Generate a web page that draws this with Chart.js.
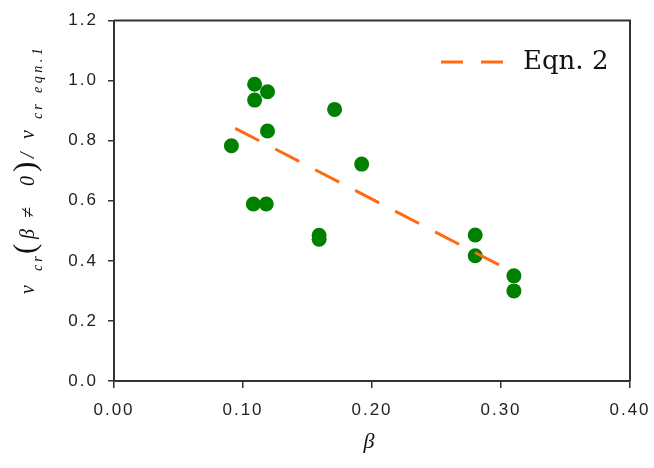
<!DOCTYPE html>
<html>
<head>
<meta charset="utf-8">
<script src="https://cdn.jsdelivr.net/npm/chart.js@4.4.1/dist/chart.umd.min.js"></script>
<style>
  body { margin: 0; background: #fff; }
  canvas { display: block; }
</style>
</head>
<body>
<canvas id="myChart" width="654" height="468"></canvas>
<script>
// dane
const betaValues  = [0.091, 0.109, 0.109, 0.119, 0.119, 0.108, 0.118, 0.159, 0.159, 0.171, 0.192, 0.280, 0.280, 0.310, 0.310];
const ratioValues = [0.783, 0.988, 0.935, 0.963, 0.832, 0.589, 0.589, 0.485, 0.472, 0.904, 0.722, 0.486, 0.417, 0.350, 0.300];
const eqnBeta  = [0.094, 0.309];
const eqnRatio = [0.841, 0.363];
const eqnLabel = 'Eqn. 2';
const xTitle = 'β';

const axisColor = '#333';
const pointColor = '#008000';
const eqnColor = '#ff6a13';

// tytul osi Y z indeksami dolnymi (bottom = dolna krawedz kawalka na ekranie)
const yTitleRuns = [
    { t: 'v', size: 20, dy: 0, bottom: 294 },
    { t: 'cr', size: 14, dy: 8, bottom: 271, ls: 3 },
    { t: '(', size: 31, dy: 1, bottom: 254, upright: true },
    { t: 'β', size: 20, dy: 0, bottom: 239 },
    { t: '≠', size: 20, dy: 0, bottom: 218 },
    { t: '0', size: 20, dy: 0, bottom: 186 },
    { t: ')', size: 31, dy: 1, bottom: 172, upright: true },
    { t: '/', size: 20, dy: 0, bottom: 158 },
    { t: 'v', size: 20, dy: 0, bottom: 139 },
    { t: 'cr', size: 14, dy: 8, bottom: 119, ls: 3 },
    { t: 'eqn.1', size: 14, dy: 8, bottom: 93, ls: 3.5 }
];

const extrasPlugin = {
    id: 'extras',
    beforeDraw(chart) {
        chart.ctx.letterSpacing = '2px';
    },
    afterDraw(chart) {
        const ctx = chart.ctx;
        const a = chart.chartArea;
        ctx.save();
        ctx.letterSpacing = '0px';
        // ramka
        ctx.strokeStyle = axisColor;
        ctx.lineWidth = 2;
        ctx.beginPath();
        ctx.moveTo(a.left, a.top);
        ctx.lineTo(a.right, a.top);
        ctx.lineTo(a.right, a.bottom);
        ctx.stroke();

        // legenda
        ctx.strokeStyle = eqnColor;
        ctx.lineWidth = 3;
        ctx.setLineDash([22, 18]);
        ctx.beginPath();
        ctx.moveTo(441, 62);
        ctx.lineTo(508, 62);
        ctx.stroke();
        ctx.setLineDash([]);
        ctx.fillStyle = '#111';
        ctx.font = '26px "DejaVu Serif"';
        ctx.textBaseline = 'middle';
        ctx.textAlign = 'left';
        ctx.fillText(eqnLabel, 523, 62);

        // tytul osi X
        ctx.font = 'italic 22px "Liberation Serif"';
        ctx.textAlign = 'center';
        ctx.fillText(xTitle, 369, 442);

        // tytul osi Y
        ctx.textAlign = 'left';
        ctx.textBaseline = 'alphabetic';
        ctx.translate(34, 0);
        ctx.rotate(-Math.PI / 2);
        yTitleRuns.forEach(r => {
            ctx.font = (r.upright ? '' : 'italic ') + r.size + 'px "Liberation Serif"';
            ctx.letterSpacing = (r.ls || 0) + 'px';
            ctx.fillText(r.t, -r.bottom, r.dy);
        });
        ctx.restore();
    }
};

const ctx = document.getElementById('myChart').getContext('2d');
const myChart = new Chart(ctx, {
    type: 'scatter',
    data: {
        datasets: [
            {
                type: 'line',
                label: eqnLabel,
                data: eqnBeta.map((b, i) => ({ x: b, y: eqnRatio[i] })),
                borderColor: eqnColor,
                borderWidth: 3,
                borderDash: [27, 18],
                pointRadius: 0,
                fill: false,
                order: 0
            },
            {
                label: 'dane',
                data: betaValues.map((b, i) => ({ x: b, y: ratioValues[i] })),
                backgroundColor: pointColor,
                borderWidth: 0,
                pointRadius: 7.5,
                order: 1
            }
        ]
    },
    options: {
        responsive: false,
        animation: false,
        layout: { padding: { top: 20.5, right: 24, left: 0, bottom: 0 } },
        plugins: {
            legend: { display: false },
            tooltip: { enabled: false }
        },
        scales: {
            x: {
                type: 'linear',
                min: 0,
                max: 0.4,
                afterFit: s => {
                    s.height = 87;
                    s.paddingLeft = 0;
                    s.paddingRight = 0;
                },
                ticks: {
                    stepSize: 0.1,
                    padding: 12,
                    color: '#222',
                    font: { family: '"Liberation Sans"', size: 17 },
                    callback: v => v.toFixed(2)
                },
                grid: { drawOnChartArea: false, tickLength: 7, color: axisColor, lineWidth: 1.5 },
                border: { color: axisColor, width: 2 }
            },
            y: {
                min: 0,
                max: 1.2,
                afterFit: s => {
                    s.width = 114;
                    s.paddingTop = 0;
                    s.paddingBottom = 0;
                },
                ticks: {
                    stepSize: 0.2,
                    padding: 10,
                    color: '#222',
                    font: { family: '"Liberation Sans"', size: 17 },
                    callback: v => v.toFixed(1)
                },
                grid: { drawOnChartArea: false, tickLength: 6, color: axisColor, lineWidth: 1.5 },
                border: { color: axisColor, width: 2 }
            }
        }
    },
    plugins: [extrasPlugin]
});
</script>
</body>
</html>
